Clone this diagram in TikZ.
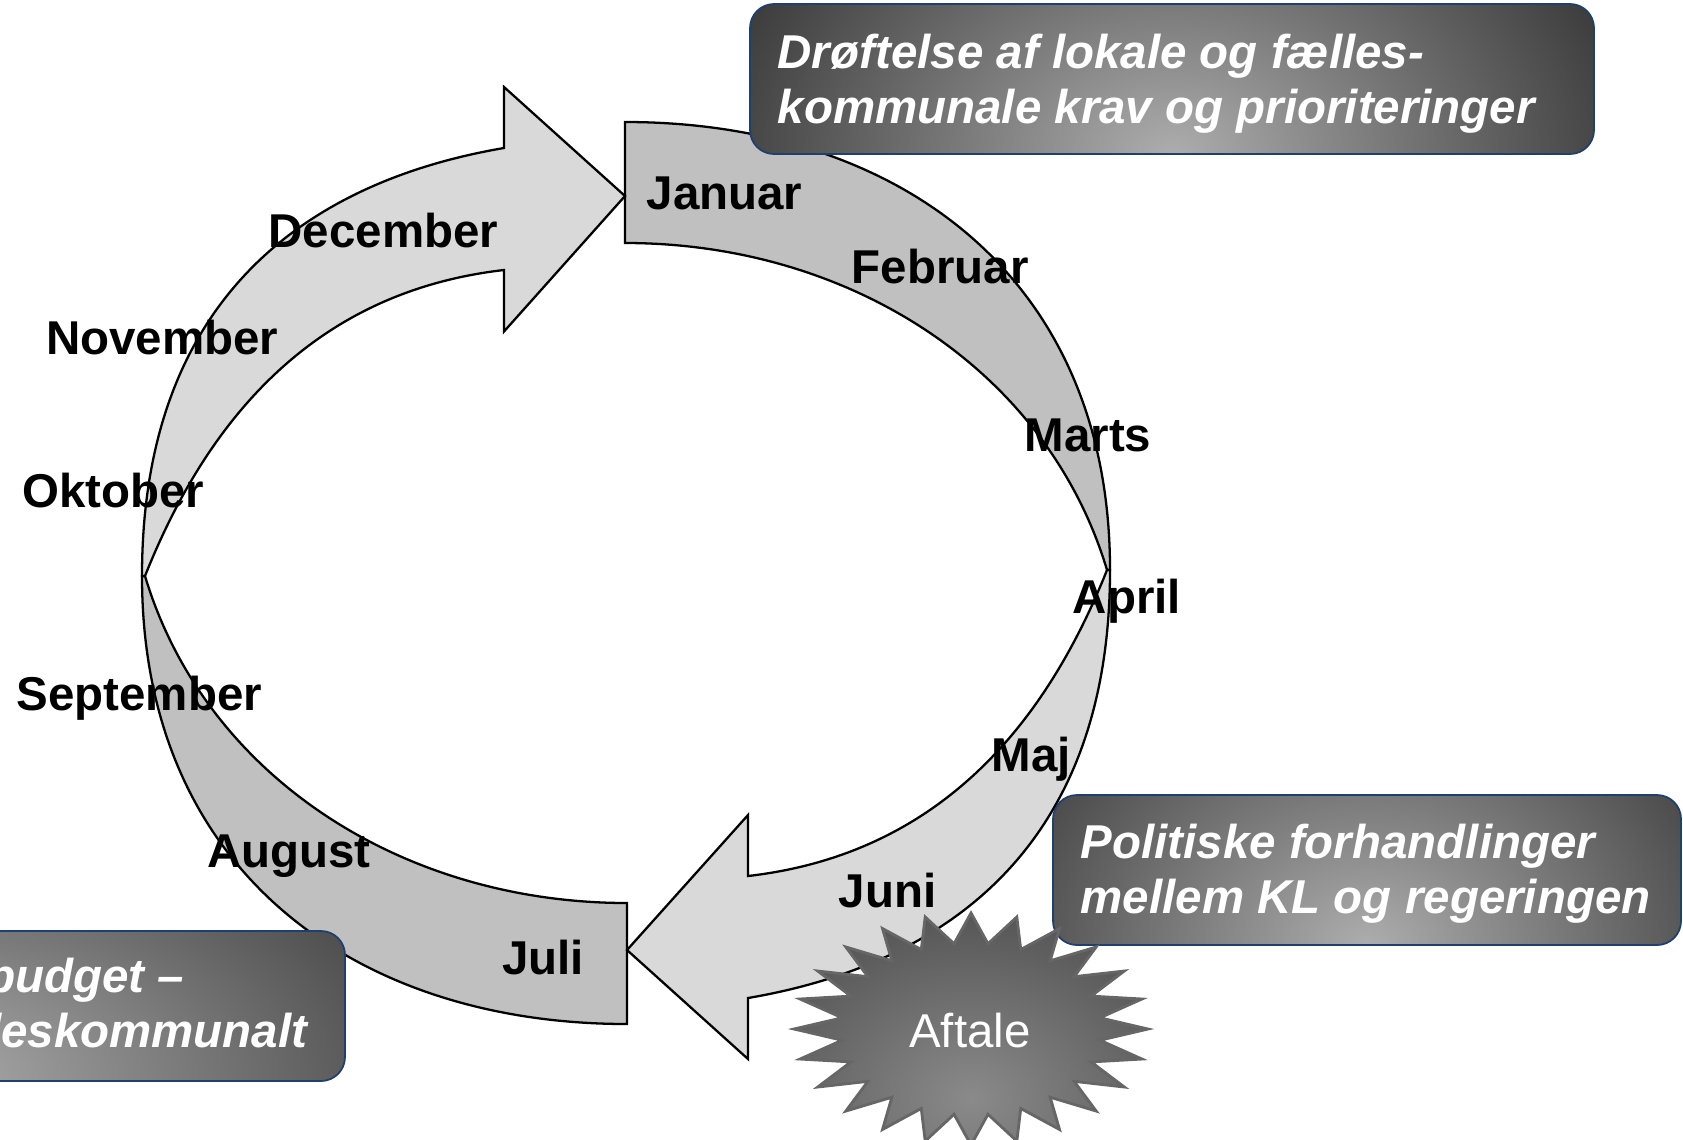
\documentclass[tikz,border=0pt]{standalone}
\usepackage{fontspec}
\setmainfont{Liberation Sans}
\usepackage{tikz}
\usetikzlibrary{calc}
\definecolor{bandGray}{HTML}{C0C0C0}
\definecolor{arrowGray}{HTML}{D9D9D9}
\definecolor{boxLine}{HTML}{1F3F6E}
\definecolor{glowLight}{HTML}{ADADAD}
\definecolor{glowDark}{HTML}{393939}
\definecolor{starLight}{HTML}{8A8A8A}
\definecolor{starDark}{HTML}{474747}
\definecolor{starLine}{HTML}{666666}
\tikzset{
bandMe/.style={fill=bandGray, draw=black, line width=0.65pt},
arrowMe/.style={fill=arrowGray, draw=black, line width=0.65pt},
monthMe/.style={font=\fontsize{13.5}{16}\selectfont\bfseries, anchor=base west, inner sep=0pt},
noteMe/.style={font=\fontsize{13.5}{16}\selectfont\bfseries\itshape, text=white, inner sep=0pt},
glowMe/.style={draw=boxLine, line width=0.5pt, rounded corners=0.24cm,
    path picture={\fill[glowDark] (path picture bounding box.south west) rectangle (path picture bounding box.north east);
    \shade[inner color=glowLight, outer color=glowDark] (path picture bounding box.south) ellipse [x radius=#1, y radius=3.4cm];}},
starMe/.style={draw=starLine, line width=0.8pt,
    path picture={\fill[starDark] (path picture bounding box.south west) rectangle (path picture bounding box.north east);
    \shade[inner color=starLight, outer color=starDark] ($(path picture bounding box.south)!0.4!(path picture bounding box.center)$) ellipse [x radius=3cm, y radius=2.4cm];}}
}

\begin{document}
\begin{tikzpicture}[x=0.01cm, y=-0.01cm]
    \useasboundingbox (0,0) rectangle (1683,1139);
    \clip (0,0) rectangle (1683,1139);

    % heads of the two arrows
    \coordinate (h_1) at (504,87);
    \coordinate (h_2) at (625,196);
    \coordinate (h_3) at (504,331.5);
    \coordinate (k_1) at (748,1059);
    \coordinate (k_2) at (627,950);
    \coordinate (k_3) at (748,815);

    % the two darker halves of the ring
    \filldraw[bandMe] (625,122) .. controls (895,122) and (1110,274) .. (1110,570) -- (1107,570)
        .. controls (1047,370) and (850,243) .. (625,243) -- cycle;
    \filldraw[bandMe] (627,1024) .. controls (357,1024) and (142,872) .. (142,576) -- (145,576)
        .. controls (205,776) and (402,903) .. (627,903) -- cycle;

    % the two arrows
    \filldraw[arrowMe] (142,576) .. controls (142,300) and (305,182) .. (504,148) -- (h_1) -- (h_2) -- (h_3)
        -- (504,270) .. controls (330,290) and (215,400) .. (145,576) -- cycle;
    \filldraw[arrowMe] (1110,570) .. controls (1110,846) and (947,964) .. (748,998) -- (k_1) -- (k_2) -- (k_3)
        -- (748,876) .. controls (922,856) and (1037,746) .. (1107,570) -- cycle;

    \foreach \m/\x/\y in {Januar/646/209, Februar/851/283.5, Marts/1024/451, April/1072/613,
        Maj/991/771, Juni/838/907.5, Juli/501.5/974.5, August/206.5/867.5, September/16/710,
        Oktober/21.5/507, November/45.5/354, December/268/247}
        \node[monthMe] (\m) at (\x,\y) {\m};

    % notes
    \path[glowMe=4.8cm] (750,4) rectangle (1594,154);
    \node[noteMe, anchor=base west] (note_1a) at (777,68) {Drøftelse af lokale og fælles-};
    \node[noteMe, anchor=base west] (note_1b) at (777,123) {kommunale krav og prioriteringer};

    \path[glowMe=4.3cm] (1053,795) rectangle (1681,945);
    \node[noteMe, anchor=base west] (note_2a) at (1080,858.5) {Politiske forhandlinger};
    \node[noteMe, anchor=base west] (note_2b) at (1080,913) {mellem KL og regeringen};

    \path[glowMe=6.2cm] (-520,931) rectangle (345,1081);
    \node[noteMe, anchor=base east] (note_3a) at (185,992) {budget –};
    \node[noteMe, anchor=base east] (note_3b) at (308,1047) {leskommunalt};

    % star
    \begin{scope}[shift={(971,1029)}]
    \filldraw[starMe] (0:177 and 116) \foreach \a in {0,15,...,345}{ -- ({\a+7.5}:130 and 86) -- ({\a+15}:177 and 116)} -- cycle;
    \end{scope}
    \node[font=\fontsize{13.5}{16}\selectfont, text=white, anchor=base, inner sep=0pt] (aftale) at (970,1047) {Aftale};
\end{tikzpicture}
\end{document}
